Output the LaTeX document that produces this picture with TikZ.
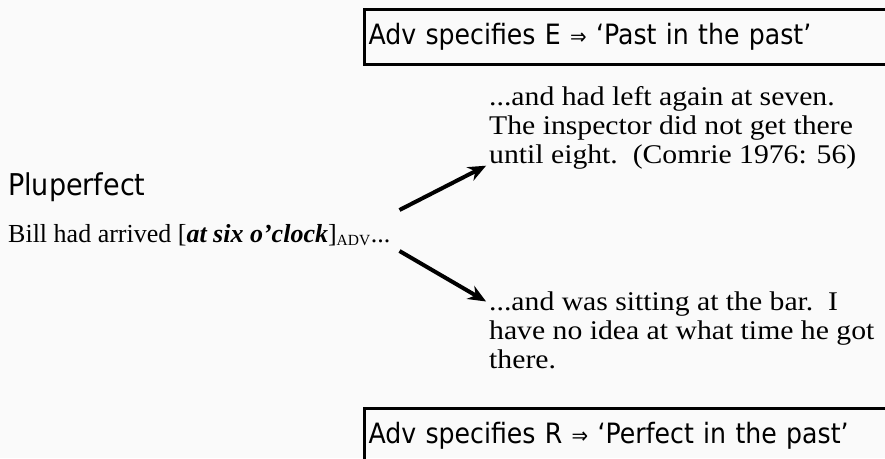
\documentclass[tikz,border=0pt]{standalone}
\usepackage{fontspec}
\setmainfont{Liberation Serif}
\newfontfamily\quotefont[FakeStretch=1.1]{Liberation Serif}
\newfontfamily\labelfont[FakeStretch=0.9]{DejaVu Sans}
\usetikzlibrary{arrows.meta,positioning}

\begin{document}
\begin{tikzpicture}[
            x = 1pt, y = -1pt, % one unit per pixel, y downwards
            > = {Stealth[length=18pt,width=15pt]}, % arrow head style
            reading/.style = {draw, line width=3pt, anchor=north west,
                minimum height=55pt, text width=560pt, inner xsep=4pt,
                font=\labelfont\fontsize{28}{30}\selectfont},
            example/.style = {anchor=north west, align=left, inner sep=0pt,
                font=\quotefont\fontsize{27}{29}\selectfont},
            link/.style = {->, line width=4pt, shorten > = 1pt}
        ]
	\useasboundingbox (0,0) rectangle (885,458);
	\fill[black!2] (0,0) rectangle (885,458);
	\clip (0,0) rectangle (885,458);

	\node[reading] (E) at (363,8) {Adv specifies E {\fontsize{22}{24}\selectfont ⇒} ‘Past in the past’};
	\node[reading] (R) at (363,407) {Adv specifies R {\fontsize{22}{24}\selectfont ⇒} ‘Perfect in the past’};

	\node[anchor=base west, inner sep=0pt, font=\labelfont\fontsize{30}{32}\selectfont] (name) at (8,195) {Pluperfect};
	\node[anchor=base west, inner sep=0pt, font=\fontsize{26}{30}\selectfont] (bill) at (8,242)
		{Bill had arrived [\textbf{\textit{at six o’clock}}]$_{\textrm{\fontsize{15.5}{18}\selectfont ADV}}$...};

	\node[example] (left) at (489,86) {...and had left again at seven.\\
		The inspector did not get there\\
		until eight.\ \ (Comrie 1976: 56)};
	\node[example] (bar) at (489,292) {...and was sitting at the bar.\ \ I\\
		have no idea at what time he got\\
		there.};

	\draw[link] ([xshift=9pt,yshift=32pt]bill.base east) -- ([xshift=-2pt,yshift=4pt]left.south west);
	\draw[link] ([xshift=9pt,yshift=-9pt]bill.base east) -- ([xshift=-2pt,yshift=-10pt]bar.north west);
\end{tikzpicture}
\end{document}
